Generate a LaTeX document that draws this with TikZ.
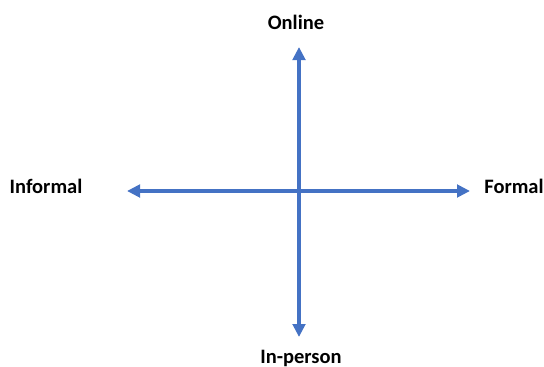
\documentclass[tikz,border=0pt]{standalone}
\usepackage{fontspec}
\setmainfont{Carlito}
\usetikzlibrary{arrows.meta}
\definecolor{axisblue}{HTML}{4472C4}
\begin{document}
\begin{tikzpicture}[x=1pt,y=-1pt,
  axis/.style={axisblue, line width=3.6pt, {Triangle[length=13pt,width=12.5pt]}-{Triangle[length=13pt,width=12.5pt]}},
  lbl/.style={font=\fontsize{20.5}{23}\selectfont\bfseries, inner sep=0pt}]
\useasboundingbox (0,0) rectangle (544,367);
\coordinate (top) at (299,47);
\coordinate (bottom) at (299,337);
\coordinate (left) at (127,191);
\coordinate (right) at (470,191);
\draw[axis] (left) -- (right);
\draw[axis] (top) -- (bottom);
\node[lbl] (online) at (296,22) {Online};
\node[lbl] (informal) at (46,186) {Informal};
\node[lbl] (formal) at (514,186) {Formal};
\node[lbl] (inperson) at (301,358) {In-person};
\end{tikzpicture}
\end{document}
